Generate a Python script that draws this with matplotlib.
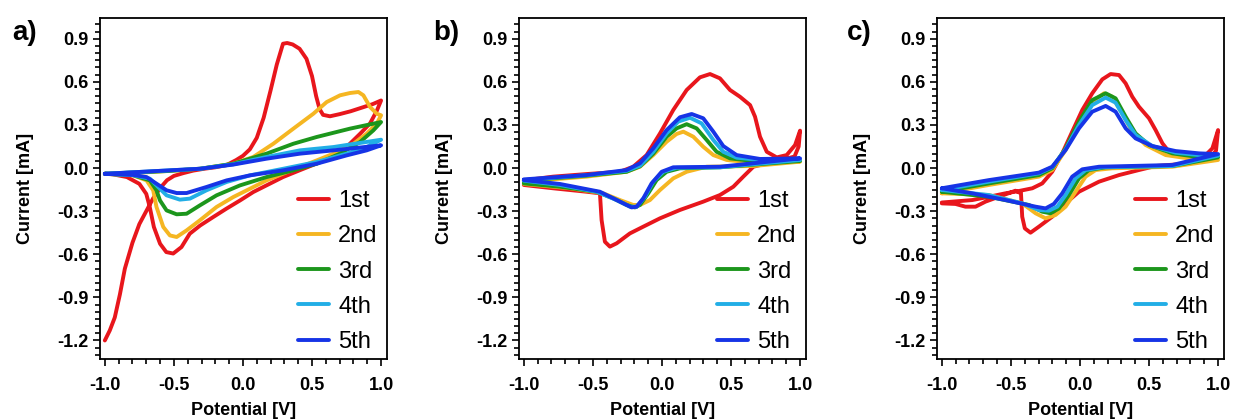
import matplotlib
matplotlib.use("Agg")
import matplotlib.pyplot as plt

plt.rcParams['font.family'] = ['Liberation Sans', 'DejaVu Sans']
plt.rcParams['axes.unicode_minus'] = False

# ---------------- data: cyclic voltammograms (potential V, current mA) ----------------
CYCLES = ["1st", "2nd", "3rd", "4th", "5th"]
COLORS = ["#E8161C", "#F5B622", "#1C961C", "#22AEE6", "#1634E6"]

X_TICKS = [-1.0, -0.5, 0.0, 0.5, 1.0]
Y_TICKS = [-1.2, -0.9, -0.6, -0.3, 0.0, 0.3, 0.6, 0.9]

# panel a
A1_V = [-1.0, -0.964, -0.928, -0.891, -0.855, -0.80, -0.75, -0.70, -0.65, -0.60, -0.55, -0.50, -0.43, -0.36,
        -0.28, -0.20, -0.12, -0.05, 0.0, 0.05, 0.10, 0.15, 0.20, 0.245, 0.29, 0.32, 0.36, 0.41, 0.46, 0.50,
        0.53, 0.555, 0.58, 0.63, 0.70, 0.78, 0.86, 0.94, 1.0,
        0.97, 0.92, 0.85, 0.75, 0.65, 0.53, 0.41, 0.29, 0.17, 0.075, -0.02, -0.12, -0.215, -0.31, -0.385,
        -0.445, -0.505, -0.555, -0.60, -0.645, -0.675, -0.70, -0.75, -0.84, -0.94, -1.0]
A1_I = [-1.20, -1.13, -1.04, -0.88, -0.70, -0.52, -0.39, -0.30, -0.21, -0.14, -0.085, -0.055, -0.035, -0.018,
        -0.005, 0.005, 0.02, 0.055, 0.085, 0.13, 0.21, 0.35, 0.54, 0.72, 0.865, 0.87, 0.86, 0.83, 0.76, 0.64,
        0.50, 0.41, 0.37, 0.36, 0.375, 0.395, 0.42, 0.445, 0.47,
        0.40, 0.31, 0.24, 0.146, 0.088, 0.03, -0.016, -0.063, -0.121, -0.167, -0.225, -0.283, -0.341, -0.40,
        -0.457, -0.55, -0.595, -0.585, -0.527, -0.41, -0.27, -0.18, -0.11, -0.063, -0.044, -0.04]

A2_V = [-1.0, -0.80, -0.55, -0.31, -0.07, 0.075, 0.22, 0.365, 0.51, 0.606, 0.703, 0.775, 0.836, 0.872, 0.92,
        0.969, 1.0,
        0.969, 0.896, 0.80, 0.655, 0.534, 0.413, 0.292, 0.171, 0.051, -0.07, -0.191, -0.312, -0.408, -0.48,
        -0.529, -0.577, -0.626, -0.65, -0.698, -0.795, -1.0]
A2_I = [-0.04, -0.035, -0.021, -0.005, 0.03, 0.077, 0.169, 0.274, 0.378, 0.459, 0.506, 0.522, 0.529, 0.506,
        0.425, 0.378, 0.367,
        0.309, 0.239, 0.169, 0.10, 0.053, 0.007, -0.039, -0.086, -0.144, -0.202, -0.271, -0.364, -0.434, -0.48,
        -0.469, -0.41, -0.271, -0.155, -0.086, -0.051, -0.04]

A3_V = [-1.0, -0.55, -0.31, -0.07, 0.171, 0.365, 0.534, 0.775, 1.0,
        0.944, 0.848, 0.703, 0.534, 0.365, 0.171, -0.022, -0.191, -0.312, -0.408, -0.48, -0.553, -0.601,
        -0.626, -0.674, -0.795, -1.0]
A3_I = [-0.04, -0.021, -0.005, 0.03, 0.10, 0.169, 0.216, 0.274, 0.32,
        0.262, 0.181, 0.10, 0.03, -0.016, -0.063, -0.121, -0.19, -0.26, -0.318, -0.322, -0.295, -0.225,
        -0.155, -0.086, -0.05, -0.04]

A4_V = [-1.0, -0.31, -0.07, 0.171, 0.413, 0.655, 1.0,
        0.896, 0.751, 0.534, 0.292, 0.051, -0.118, -0.264, -0.384, -0.457, -0.553, -0.614, -0.674, -0.795, -1.0]
A4_I = [-0.04, -0.005, 0.026, 0.077, 0.123, 0.146, 0.197,
        0.146, 0.10, 0.042, -0.005, -0.051, -0.097, -0.155, -0.213, -0.22, -0.19, -0.132, -0.074, -0.05, -0.04]

A5_V = [-1.0, -0.31, -0.07, 0.171, 0.413, 0.655, 1.0,
        0.896, 0.751, 0.534, 0.292, 0.051, -0.118, -0.264, -0.408, -0.48, -0.553, -0.626, -0.698, -0.795, -1.0]
A5_I = [-0.04, -0.005, 0.024, 0.065, 0.10, 0.123, 0.158,
        0.123, 0.088, 0.03, -0.016, -0.051, -0.086, -0.132, -0.174, -0.174, -0.155, -0.109, -0.063, -0.048, -0.04]

# panel b
B1_V = [-1.0, -0.788, -0.546, -0.304, -0.208, -0.111, -0.014, 0.082, 0.179, 0.275, 0.348, 0.42, 0.493, 0.565,
        0.638, 0.674, 0.71, 0.759, 0.831, 0.903, 0.964, 1.0,
        0.99, 0.96, 0.88, 0.807, 0.662, 0.589, 0.517, 0.42, 0.299, 0.13, -0.014, -0.135, -0.232, -0.328, -0.377,
        -0.413, -0.437, -0.449, -0.546, -0.788, -1.0]
B1_I = [-0.086, -0.06, -0.042, -0.026, 0.009, 0.09, 0.241, 0.404, 0.543, 0.631, 0.654, 0.624, 0.543, 0.496,
        0.438, 0.357, 0.218, 0.113, 0.074, 0.09, 0.16, 0.26,
        0.15, 0.08, 0.06, 0.044, 0.009, -0.06, -0.13, -0.188, -0.234, -0.292, -0.35, -0.408, -0.455, -0.524,
        -0.547, -0.513, -0.362, -0.176, -0.165, -0.141, -0.118]

B2_V = [-1.0, -0.546, -0.256, -0.159, -0.063, 0.034, 0.106, 0.155, 0.227, 0.299, 0.372, 0.469, 0.662, 1.0,
        0.662, 0.324, 0.179, 0.082, -0.014, -0.087, -0.159, -0.208, -0.304, -0.425, -0.667, -1.0]
B2_I = [-0.095, -0.06, -0.026, 0.009, 0.09, 0.183, 0.237, 0.253, 0.218, 0.148, 0.09, 0.056, 0.037, 0.044,
        0.014, 0.009, -0.026, -0.072, -0.153, -0.223, -0.257, -0.257, -0.223, -0.176, -0.141, -0.111]

B3_V = [-1.0, -0.546, -0.256, -0.159, -0.063, 0.034, 0.106, 0.179, 0.251, 0.324, 0.396, 0.493, 0.662, 1.0,
        0.42, 0.13, 0.034, -0.039, -0.099, -0.159, -0.196, -0.256, -0.353, -0.473, -0.739, -1.0]
B3_I = [-0.088, -0.053, -0.026, 0.012, 0.10, 0.218, 0.276, 0.305, 0.276, 0.195, 0.113, 0.067, 0.049, 0.049,
        0.005, -0.002, -0.026, -0.084, -0.176, -0.257, -0.274, -0.257, -0.211, -0.165, -0.13, -0.107]

B4_V = [-1.0, -0.546, -0.256, -0.159, -0.063, 0.034, 0.118, 0.203, 0.287, 0.372, 0.444, 0.541, 0.71, 1.0,
        0.42, 0.106, 0.01, -0.063, -0.123, -0.183, -0.232, -0.328, -0.473, -0.739, -1.0]
B4_I = [-0.084, -0.05, -0.019, 0.016, 0.113, 0.241, 0.323, 0.35, 0.311, 0.195, 0.113, 0.072, 0.056, 0.056,
        0.005, 0.002, -0.026, -0.095, -0.20, -0.269, -0.269, -0.223, -0.165, -0.118, -0.088]

B5_V = [-1.0, -0.546, -0.256, -0.159, -0.063, 0.034, 0.13, 0.215, 0.299, 0.372, 0.444, 0.541, 0.71, 1.0,
        0.42, 0.082, -0.002, -0.075, -0.135, -0.183, -0.22, -0.304, -0.449, -0.739, -1.0]
B5_I = [-0.079, -0.049, -0.014, 0.033, 0.137, 0.264, 0.353, 0.376, 0.346, 0.253, 0.153, 0.09, 0.063, 0.067,
        0.009, 0.005, -0.026, -0.107, -0.211, -0.269, -0.274, -0.234, -0.165, -0.111, -0.084]

# panel c
C1_V = [-1.0, -0.78, -0.659, -0.539, -0.442, -0.345, -0.273, -0.201, -0.128, -0.056, 0.017, 0.089, 0.162, 0.222,
        0.283, 0.331, 0.379, 0.427, 0.5, 0.548, 0.597, 0.645, 0.717, 0.814, 0.91, 0.959, 1.0,
        0.985, 0.93, 0.79, 0.548, 0.427, 0.283, 0.138, -0.007, -0.104, -0.201, -0.297, -0.358, -0.399, -0.418,
        -0.427, -0.467, -0.587, -0.684, -0.756, -0.829, -0.901, -1.0]
C1_I = [-0.24, -0.223, -0.2, -0.176, -0.16, -0.141, -0.107, -0.026, 0.102, 0.253, 0.404, 0.52, 0.617, 0.654,
        0.647, 0.589, 0.496, 0.427, 0.346, 0.264, 0.172, 0.113, 0.09, 0.079, 0.09, 0.137, 0.264,
        0.12, 0.056, 0.032, 0.014, -0.014, -0.049, -0.095, -0.165, -0.246, -0.339, -0.408, -0.45, -0.42, -0.339,
        -0.176, -0.158, -0.2, -0.234, -0.269, -0.269, -0.25, -0.246]

C2_V = [-1.0, -0.659, -0.297, -0.201, -0.104, -0.007, 0.089, 0.174, 0.234, 0.307, 0.379, 0.476, 0.621, 0.814, 1.0,
        0.669, 0.234, 0.114, 0.041, -0.032, -0.104, -0.177, -0.249, -0.321, -0.418, -0.659, -1.0]
C2_I = [-0.176, -0.118, -0.06, -0.014, 0.125, 0.311, 0.461, 0.52, 0.496, 0.38, 0.253, 0.16, 0.09, 0.063, 0.056,
        0.009, -0.002, -0.014, -0.06, -0.165, -0.269, -0.327, -0.35, -0.315, -0.246, -0.188, -0.176]

C3_V = [-1.0, -0.659, -0.297, -0.201, -0.104, -0.007, 0.089, 0.186, 0.258, 0.331, 0.403, 0.5, 0.669, 0.838, 1.0,
        0.669, 0.186, 0.065, -0.007, -0.08, -0.152, -0.213, -0.273, -0.37, -0.659, -1.0]
C3_I = [-0.165, -0.107, -0.049, -0.002, 0.137, 0.322, 0.473, 0.52, 0.485, 0.357, 0.241, 0.16, 0.102, 0.079, 0.074,
        0.014, 0.005, -0.014, -0.072, -0.188, -0.281, -0.315, -0.304, -0.257, -0.2, -0.165]

C4_V = [-1.0, -0.659, -0.297, -0.201, -0.104, -0.007, 0.089, 0.186, 0.258, 0.331, 0.403, 0.524, 0.693, 0.862, 1.0,
        0.669, 0.162, 0.041, -0.032, -0.104, -0.164, -0.225, -0.297, -0.418, -0.659, -1.0]
C4_I = [-0.153, -0.095, -0.037, 0.005, 0.13, 0.299, 0.438, 0.49, 0.455, 0.334, 0.23, 0.153, 0.107, 0.09, 0.086,
        0.014, 0.005, -0.014, -0.072, -0.188, -0.269, -0.297, -0.292, -0.246, -0.188, -0.153]

C5_V = [-1.0, -0.659, -0.297, -0.201, -0.104, -0.007, 0.089, 0.186, 0.258, 0.331, 0.403, 0.524, 0.693, 0.862, 1.0,
        0.669, 0.138, 0.017, -0.056, -0.128, -0.189, -0.249, -0.321, -0.539, -0.78, -1.0]
C5_I = [-0.141, -0.084, -0.032, 0.009, 0.125, 0.276, 0.392, 0.432, 0.392, 0.276, 0.206, 0.153, 0.118, 0.102, 0.097,
        0.021, 0.009, -0.009, -0.06, -0.176, -0.25, -0.281, -0.269, -0.223, -0.176, -0.141]

PANELS = [
    ("a)", [(A1_V, A1_I), (A2_V, A2_I), (A3_V, A3_I), (A4_V, A4_I), (A5_V, A5_I)]),
    ("b)", [(B1_V, B1_I), (B2_V, B2_I), (B3_V, B3_I), (B4_V, B4_I), (B5_V, B5_I)]),
    ("c)", [(C1_V, C1_I), (C2_V, C2_I), (C3_V, C3_I), (C4_V, C4_I), (C5_V, C5_I)]),
]

# ---------------- figure ----------------
W, H = 1234, 419
fig = plt.figure(figsize=(W / 100, H / 100), dpi=100)

axes_left_px = [100, 519, 937]
letter_x_px = [12, 433, 847]
ax_w_px = 287
ax_top_px, ax_bot_px = 18, 359

for (letter, curves), lpx, tx in zip(PANELS, axes_left_px, letter_x_px):
    ax = fig.add_axes([lpx / W, 1 - ax_bot_px / H, ax_w_px / W, (ax_bot_px - ax_top_px) / H])
    for (v, i), name, col in zip(curves, CYCLES, COLORS):
        ax.plot(v, i, color=col, lw=2.8, label=name,
                solid_joinstyle="round", solid_capstyle="round")

    ax.set_xlim(-1.035, 1.043)
    ax.set_ylim(-1.329, 1.044)

    ax.set_xticks(X_TICKS)
    ax.set_xticklabels([f"{t:.1f}" for t in X_TICKS], fontweight="bold", fontsize=13)
    ax.set_yticks(Y_TICKS)
    ax.set_yticklabels([f"{t:.1f}" for t in Y_TICKS], fontweight="bold", fontsize=13)
    ax.xaxis.set_minor_locator(plt.MultipleLocator(0.1))
    ax.yaxis.set_minor_locator(plt.MultipleLocator(0.05))
    ax.tick_params(which="both", direction="out", width=1.2, top=False, right=False)
    ax.tick_params(which="major", length=5)
    ax.tick_params(which="minor", length=3.5)
    ax.tick_params(axis="x", pad=8)
    ax.tick_params(axis="y", pad=3)
    for sp in ax.spines.values():
        sp.set_linewidth(1.3)

    ax.set_ylabel("Current [mA]", fontweight="bold", fontsize=13)
    ax.yaxis.set_label_coords(-0.23, 0.5)
    ax.set_xlabel("Potential [V]", fontweight="bold", fontsize=13)
    ax.xaxis.set_label_coords(0.5, -0.126)

    ax.legend(loc="lower right", bbox_to_anchor=(1.0, -0.01), frameon=False, fontsize=17,
              handlelength=1.3, handletextpad=0.4, labelspacing=0.56, borderaxespad=0.0)

    fig.text(tx / W, 1 - 33.5 / H, letter, fontsize=20, fontweight="bold", va="center", ha="left")

fig.savefig("out.png", dpi=100)
